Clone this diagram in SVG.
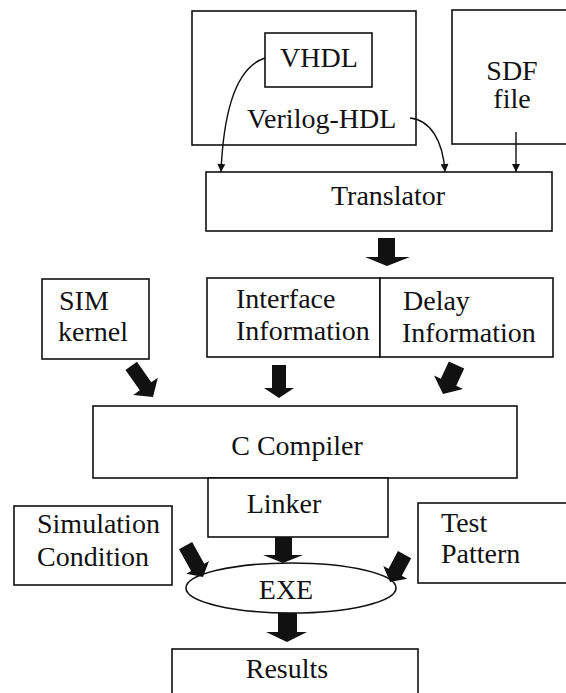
<svg xmlns="http://www.w3.org/2000/svg" width="566" height="693" viewBox="0 0 566 693">
  <style>
    .box { fill: #fff; stroke: #111; stroke-width: 1.6; }
    .lbl { font-family: 'Liberation Serif', 'DejaVu Serif', 'Times New Roman', serif; font-size: 28px; fill: #111; }
    .mid { text-anchor: middle; }
    .wire { fill: none; stroke: #111; stroke-width: 1.4; }
    .fat { fill: #111; }
  </style>
  <defs>
    <marker id="tip" viewBox="0 0 10 10" refX="10" refY="5" markerWidth="9" markerHeight="8" markerUnits="userSpaceOnUse" orient="auto">
      <path d="M0,0 L10,5 L0,10 Z" fill="#111"/>
    </marker>
  </defs>

  <rect width="566" height="693" fill="#fff"/>

  <!-- source files -->
  <g id="hdl-sources">
    <rect class="box" x="192" y="11" width="224" height="134"/>
    <text class="lbl" font-family="Liberation Serif, serif" x="247" y="128">Verilog-HDL</text>
  </g>
  <g id="vhdl">
    <rect class="box" x="265" y="33" width="107" height="54"/>
    <text class="lbl mid" x="319" y="67">VHDL</text>
  </g>
  <g id="sdf-file">
    <rect class="box" x="452" y="10" width="130" height="134"/>
    <text class="lbl mid" x="512" y="80">SDF</text>
    <text class="lbl mid" x="512" y="108">file</text>
  </g>

  <g id="translator">
    <rect class="box" x="206" y="172" width="346" height="59"/>
    <text class="lbl mid" x="388" y="205">Translator</text>
  </g>

  <g id="sim-kernel">
    <rect class="box" x="42" y="279" width="107" height="80"/>
    <text class="lbl" x="59" y="310">SIM</text>
    <text class="lbl" x="58" y="341">kernel</text>
  </g>
  <g id="interface-info">
    <rect class="box" x="207" y="278" width="173" height="79"/>
    <text class="lbl" x="236" y="308">Interface</text>
    <text class="lbl" x="236" y="340">Information</text>
  </g>
  <g id="delay-info">
    <rect class="box" x="380" y="278" width="173" height="79"/>
    <text class="lbl" x="403" y="310">Delay</text>
    <text class="lbl" x="402" y="342">Information</text>
  </g>

  <g id="c-compiler">
    <rect class="box" x="93" y="406" width="424" height="72"/>
    <text class="lbl mid" x="297" y="455">C Compiler</text>
  </g>
  <g id="linker">
    <rect class="box" x="208" y="478" width="180" height="59"/>
    <text class="lbl mid" x="284" y="513">Linker</text>
  </g>

  <g id="sim-condition">
    <rect class="box" x="14" y="506" width="158" height="79"/>
    <text class="lbl" x="37" y="533">Simulation</text>
    <text class="lbl" x="37" y="566">Condition</text>
  </g>
  <g id="test-pattern">
    <rect class="box" x="418" y="503" width="160" height="80"/>
    <text class="lbl" x="441" y="532">Test</text>
    <text class="lbl" x="441" y="563">Pattern</text>
  </g>

  <g id="exe">
    <ellipse class="box" cx="291" cy="588" rx="105" ry="25"/>
    <text class="lbl mid" x="286" y="599">EXE</text>
  </g>

  <g id="results">
    <rect class="box" x="172" y="649" width="246" height="60"/>
    <text class="lbl mid" x="287" y="678">Results</text>
  </g>

  <g id="connectors">
    <!-- thin input arrows into the translator -->
    <path class="wire" marker-end="url(#tip)" d="M265,58 C240,66 224,100 221,172"/>
    <path class="wire" marker-end="url(#tip)" d="M410,118 C430,120 443,140 445,172"/>
    <path class="wire" marker-end="url(#tip)" d="M516,132 L516,172"/>

    <!-- block arrows -->
    <polygon class="fat" points="378,238 395,238 395,257 410,257 387,266 365,257 378,257"/>
    <polygon class="fat" points="272,365 286,365 286,388 294,388 279,398 264,388 272,388"/>
    <polygon class="fat" points="275,537 292,537 292,555 303,555 283,563 263,555 275,555"/>
    <polygon class="fat" points="278,613 297,613 297,632 307,632 287,642 266,632 278,632"/>

    <!-- slanted block arrows: drawn pointing down with the tip at the origin -->
    <polygon class="fat" transform="translate(153,397) rotate(-35)" points="-7,-38 7,-38 7,-13 15,-13 0,0 -15,-13 -7,-13"/>
    <polygon class="fat" transform="translate(443,394) rotate(25)" points="-8.5,-32 8.5,-32 8.5,-13 16,-13 0,0 -16,-13 -8.5,-13"/>
    <polygon class="fat" transform="translate(203,577) rotate(-29)" points="-7.5,-36 7.5,-36 7.5,-11 13,-11 0,0 -13,-11 -7.5,-11"/>
    <polygon class="fat" transform="translate(390,582) rotate(28)" points="-7.5,-31 7.5,-31 7.5,-11 13.5,-11 0,0 -13.5,-11 -7.5,-11"/>
  </g>
</svg>
